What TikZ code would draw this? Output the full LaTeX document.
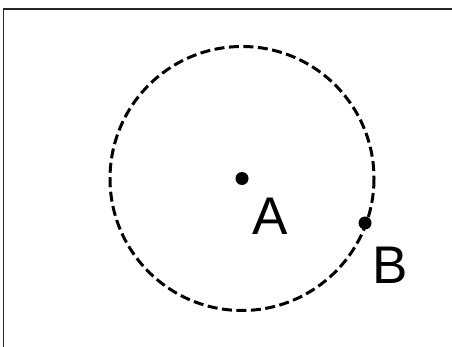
\documentclass[tikz,border=0pt]{standalone}
\usepackage{fontspec}
\setmainfont{Liberation Sans}
\begin{document}
\begin{tikzpicture}[x=1pt,y=-1pt,
  frameline/.style={draw=black!85,line width=1.3pt},
  circ/.style={draw=black,line width=3pt,dash pattern=on 10pt off 4.5pt},
  pt/.style={circle,fill=black,inner sep=0pt,minimum size=13pt},
  lbl/.style={font=\fontsize{53}{53}\selectfont,inner sep=0pt}]
\useasboundingbox (0,0) rectangle (452,347);
\coordinate (fr1) at (3.5,347);
\coordinate (fr2) at (3.5,9);
\coordinate (fr3) at (452,9);
\draw[frameline] (fr1) -- (fr2) -- (fr3);
\coordinate (A0) at (242,178.5);
\draw[circ] (A0) circle[radius=132];
\node[pt] (A) at (A0) {};
\node[pt] (B) at (365,223) {};
\node[lbl] (la) at (270,216) {A};
\node[lbl] (lb) at (390,265) {B};
\end{tikzpicture}
\end{document}
